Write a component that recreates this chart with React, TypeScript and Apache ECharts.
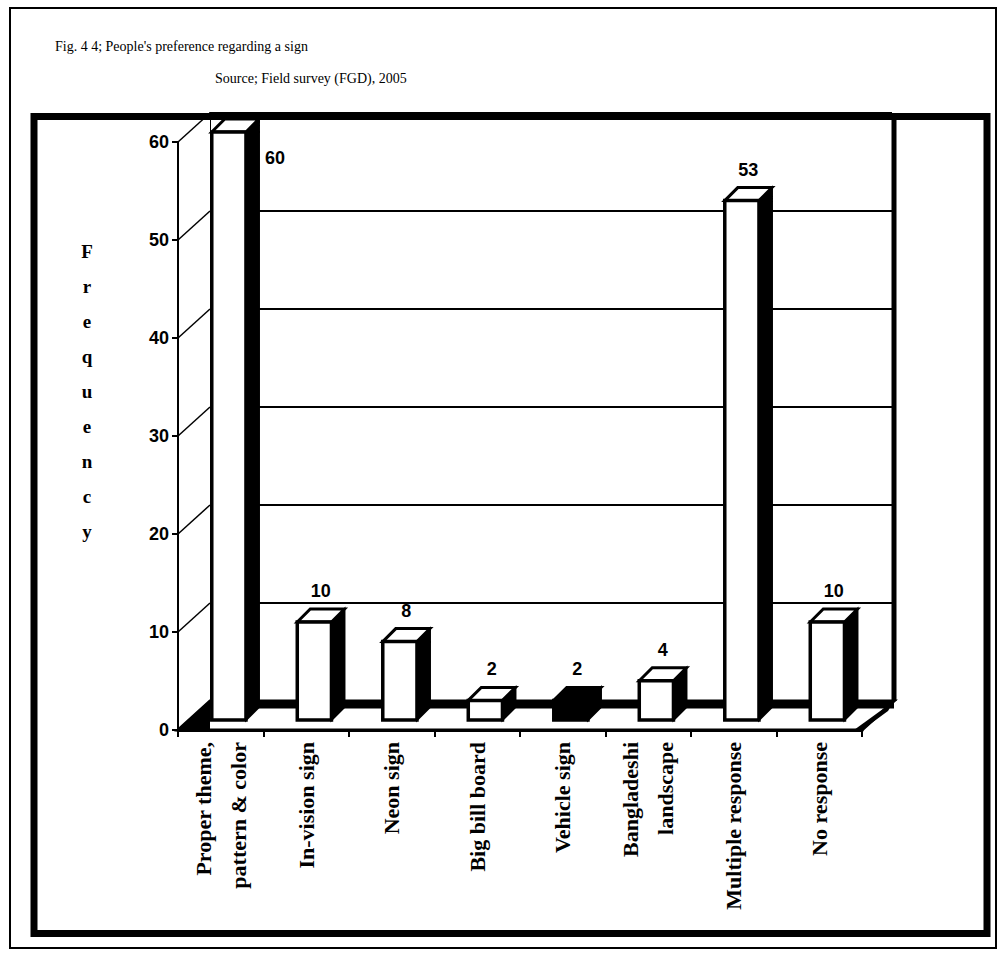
import React, { useEffect, useRef } from 'react';
import * as echarts from 'echarts';

const categories = [
  'Proper theme,\npattern & color',
  'In-vision sign',
  'Neon sign',
  'Big bill board',
  'Vehicle sign',
  'Bangladeshi\nlandscape',
  'Multiple response',
  'No response',
];
const values = [60, 10, 8, 2, 2, 4, 53, 10];
const barFills = ['#ffffff', '#ffffff', '#ffffff', '#ffffff', '#000000', '#ffffff', '#ffffff', '#ffffff'];
const yTicks = [0, 10, 20, 30, 40, 50, 60];
const titleText = "Fig. 4 4; People's preference regarding a sign";
const sourceText = 'Source; Field survey (FGD), 2005';
const axisNameLetters = ['F', 'r', 'e', 'q', 'u', 'e', 'n', 'c', 'y'];

const DX = 32;
const DY = -29;

export default function App() {
  const ref = useRef<HTMLDivElement>(null);

  useEffect(() => {
    if (!ref.current) return;
    const chart = echarts.init(ref.current, undefined, { renderer: 'svg' });

    const decorRender = (params: any, api: any) => {
      const cs = params.coordSys;
      const x0 = cs.x, y0 = cs.y, w = cs.width, h = cs.height;
      const yb = y0 + h;
      const children: any[] = [];
      children.push({
        type: 'polygon',
        shape: { points: [[x0, yb], [x0 + DX, yb + DY], [x0 + DX, y0 + DY], [x0, y0]] },
        style: { fill: '#ffffff', stroke: null },
      });
      yTicks.forEach((t) => {
        const y = api.coord([0, t])[1];
        children.push({
          type: 'line',
          shape: { x1: x0, y1: y, x2: x0 + DX, y2: y + DY },
          style: { stroke: '#000', lineWidth: 1.5 },
        });
      });
      children.push({
        type: 'polygon',
        shape: { points: [[x0, yb], [x0 + w, yb], [x0 + w + DX, yb + DY], [x0 + DX, yb + DY]] },
        style: { fill: '#ffffff', stroke: '#000', lineWidth: 3 },
      });
      children.push({
        type: 'line',
        shape: { x1: x0 + DX, y1: yb + DY + 4, x2: x0 + w + DX, y2: yb + DY + 4 },
        style: { stroke: '#000', lineWidth: 7 },
      });
      children.push({
        type: 'polygon',
        shape: { points: [[x0, yb], [x0 + DX, yb + DY], [x0 + DX, yb]] },
        style: { fill: '#000' },
      });
      children.push({
        type: 'polygon',
        shape: { points: [[x0 + w - 8, yb], [x0 + w + DX, yb + DY], [x0 + w + DX - 6, yb + DY + 10], [x0 + w, yb]] },
        style: { fill: '#000' },
      });
      children.push({
        type: 'line',
        shape: { x1: x0 + w + DX, y1: y0 + DY, x2: x0 + w + DX, y2: yb + DY },
        style: { stroke: '#000', lineWidth: 5 },
      });
      return { type: 'group', children };
    };

    const barRender = (params: any, api: any) => {
      const idx = api.value(0);
      const v = api.value(1);
      const base = api.coord([idx, 0]);
      const topPt = api.coord([idx, v]);
      const band = api.size([1, 0])[0];
      const bw = band * 0.4;
      const left = base[0] - band * 0.105;
      const off = 10;
      const d = 13;
      const yb = base[1] - off;
      const yt = topPt[1] - off;
      const fill = barFills[idx];
      const cs = params.coordSys;
      const children: any[] = [
        {
          type: 'polygon',
          shape: { points: [[left + bw, yt], [left + bw + d, yt - d], [left + bw + d, yb - d], [left + bw, yb]] },
          style: { fill: '#000', stroke: '#000', lineWidth: 2 },
        },
        {
          type: 'polygon',
          shape: { points: [[left, yt], [left + d, yt - d], [left + bw + d, yt - d], [left + bw, yt]] },
          style: { fill, stroke: '#000', lineWidth: 3 },
        },
        {
          type: 'rect',
          shape: { x: left, y: yt, width: bw, height: yb - yt },
          style: { fill, stroke: '#000', lineWidth: 3.5 },
        },
      ];
      const above = yt - d - 18 > cs.y + DY + 12;
      const font = { fontFamily: 'Liberation Sans', fontWeight: 'bold', fontSize: 18, fill: '#000' };
      children.push({
        type: 'text',
        style: above
          ? { text: String(v), x: left + (bw + d) / 2, y: yt - d - 18, align: 'center', verticalAlign: 'middle', ...font }
          : { text: String(v), x: left + bw + d + 6, y: yt + 26, align: 'left', verticalAlign: 'middle', ...font },
      });
      return { type: 'group', children };
    };

    const option: any = {
      animation: false,
      backgroundColor: '#ffffff',
      title: [
        {
          text: titleText,
          left: 50,
          top: 34,
          textStyle: { fontFamily: 'Liberation Serif', fontSize: 14, fontWeight: 'normal', color: '#000' },
        },
        {
          text: sourceText,
          left: 210,
          top: 66,
          textStyle: { fontFamily: 'Liberation Serif', fontSize: 14, fontWeight: 'normal', color: '#000' },
        },
      ],
      grid: [
        { left: 178, top: 142, width: 684, height: 588 },
        { left: 210, top: 113, width: 682, height: 588 },
      ],
      xAxis: [
        {
          type: 'category',
          gridIndex: 0,
          data: categories,
          axisLine: { show: true, lineStyle: { color: '#000', width: 3 } },
          axisTick: { show: true, length: 7, lineStyle: { color: '#000', width: 2 } },
          axisLabel: {
            rotate: 90,
            interval: 0,
            margin: 12,
            color: '#000',
            fontFamily: 'Liberation Serif',
            fontWeight: 'bold',
            fontSize: 22,
            lineHeight: 35,
          },
          z: 5,
        },
        { type: 'category', gridIndex: 1, data: categories, show: false },
      ],
      yAxis: [
        {
          type: 'value',
          gridIndex: 0,
          min: 0,
          max: 60,
          interval: 10,
          axisLine: { show: true, lineStyle: { color: '#000', width: 2 } },
          axisTick: { show: true, length: 6, lineStyle: { color: '#000', width: 2 } },
          axisLabel: { color: '#000', fontFamily: 'Liberation Sans', fontWeight: 'bold', fontSize: 18, margin: 9 },
          splitLine: { show: false },
          z: 5,
        },
        {
          type: 'value',
          gridIndex: 1,
          min: 0,
          max: 60,
          interval: 10,
          axisLine: { show: true, lineStyle: { color: '#000', width: 2 } },
          axisTick: { show: false },
          axisLabel: { show: false },
          splitLine: { show: true, lineStyle: { color: '#000', width: 2 } },
        },
      ],
      graphic: [
        {
          type: 'rect',
          shape: { x: 10, y: 8, width: 986, height: 940 },
          style: { fill: 'none', stroke: '#000', lineWidth: 2 },
          z: 100,
        },
        {
          type: 'rect',
          shape: { x: 34, y: 116.5, width: 953, height: 817 },
          style: { fill: 'none', stroke: '#000', lineWidth: 7 },
          z: 100,
        },
        {
          type: 'text',
          x: 87,
          y: 234,
          style: {
            text: axisNameLetters.join('\n'),
            align: 'center',
            verticalAlign: 'top',
            lineHeight: 35,
            fontFamily: 'Liberation Serif',
            fontWeight: 'bold',
            fontSize: 19,
            fill: '#000',
          },
          z: 100,
        },
      ],
      series: [
        {
          type: 'custom',
          xAxisIndex: 0,
          yAxisIndex: 0,
          clip: false,
          silent: true,
          data: [[0, 0]],
          renderItem: decorRender,
          z: 1,
        },
        {
          type: 'custom',
          xAxisIndex: 0,
          yAxisIndex: 0,
          clip: false,
          data: values.map((v, i) => [i, v]),
          renderItem: barRender,
          z: 3,
        },
      ],
    };

    chart.setOption(option);
    return () => {
      chart.dispose();
    };
  }, []);

  return (
    <div ref={ref} style={{ position: 'fixed', left: 0, top: 0, width: 998, height: 962, background: '#fff' }} />
  );
}
